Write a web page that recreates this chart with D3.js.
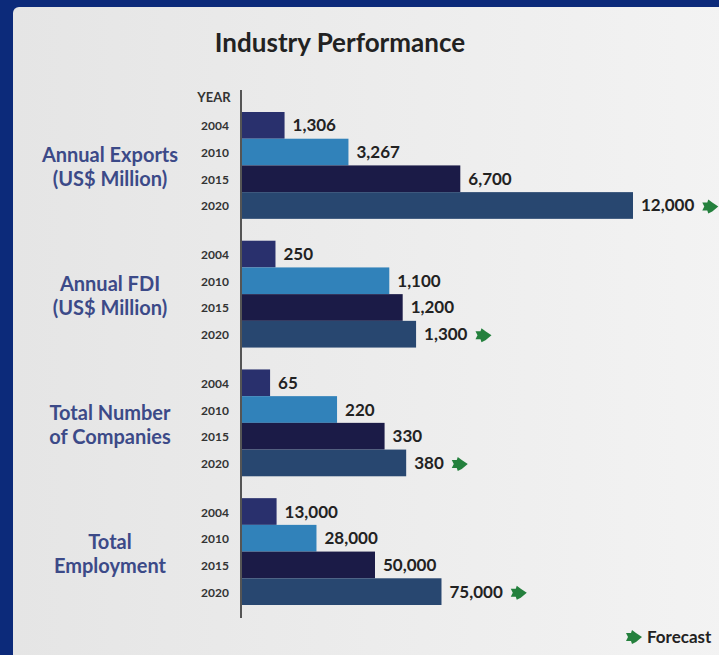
<!DOCTYPE html>
<html>
<head>
<meta charset="utf-8">
<script src="https://cdn.jsdelivr.net/npm/d3@7"></script>
<style>
  html, body { margin: 0; padding: 0; background: #0c2a7a; }
  svg { display: block; font-family: Lato, "Open Sans", sans-serif; }
</style>
</head>
<body>
<svg id="chart" width="719" height="655"></svg>
<script>
// data
var categories = [
    ["Annual Exports", "(US$ Million)"],
    ["Annual FDI", "(US$ Million)"],
    ["Total Number", "of Companies"],
    ["Total", "Employment"]
];
var years = ["2004", "2010", "2015", "2020"];
var exportsValues = [1306, 3267, 6700, 12000];
var fdiValues = [250, 1100, 1200, 1300];
var companiesValues = [65, 220, 330, 380];
var employmentValues = [13000, 28000, 50000, 75000];
var forecastYear = "2020";
// each metric has its own scale (infographic style)
var scaleMax = [12000, 2920, 905, 147000];

var series = [exportsValues, fdiValues, companiesValues, employmentValues];
var yearColors = ["#29306d", "#3182ba", "#1b1b47", "#284770"];

var svg = d3.select("#chart");
var width = 719, height = 655;
var axisX = 241;
var barWidth = 391;

// panel background
var defs = svg.append("defs");
var grad = defs.append("linearGradient").attr("id", "panelGrad")
    .attr("x1", "0").attr("y1", "0").attr("x2", "1").attr("y2", "0");
grad.append("stop").attr("offset", "0%").attr("stop-color", "#e5e5e5");
grad.append("stop").attr("offset", "100%").attr("stop-color", "#f3f3f3");

svg.append("rect").attr("width", width).attr("height", height).attr("fill", "#0c2a7a");
svg.append("rect")
    .attr("x", 13).attr("y", 7)
    .attr("width", width).attr("height", height)
    .attr("rx", 6)
    .attr("fill", "url(#panelGrad)");

svg.append("text")
    .attr("x", 340).attr("y", 52)
    .attr("text-anchor", "middle")
    .attr("font-size", "26px")
    .attr("font-weight", "bold")
    .attr("fill", "#222")
    .text("Industry Performance");

var groupY = d3.scaleBand()
    .domain(d3.range(categories.length))
    .range([112, 605])
    .paddingInner(0.17)
    .paddingOuter(0);

var yearY = d3.scaleBand()
    .domain(years)
    .range([0, groupY.bandwidth()]);

var fmt = d3.format(",");

function arrowPath(g, cx, cy) {
    g.append("path")
        .attr("transform", "translate(" + cx + "," + cy + ")")
        .attr("d", "M-8,-4 L-3,-4 L-2,-7 L2,-4 L8,0 L2,5 L-2,7 L-3,4 L-8,4 L-6,0 Z")
        .attr("fill", "#24803d");
}

// YEAR heading and axis line
svg.append("text")
    .attr("x", 214).attr("y", 102)
    .attr("text-anchor", "middle")
    .attr("font-size", "13px")
    .attr("font-weight", "bold")
    .attr("fill", "#333")
    .text("YEAR");

svg.append("line")
    .attr("x1", axisX).attr("x2", axisX)
    .attr("y1", 90).attr("y2", 618)
    .attr("stroke", "#555")
    .attr("stroke-width", 2);

categories.forEach(function (cat, i) {
    var values = series[i];
    var x = d3.scaleLinear().domain([0, scaleMax[i]]).range([0, barWidth]);
    var g = svg.append("g").attr("transform", "translate(0," + groupY(i) + ")");

    // category label
    var label = g.append("text")
        .attr("text-anchor", "middle")
        .attr("font-size", "20px")
        .attr("font-weight", "bold")
        .attr("fill", "#3c4a88");
    cat.forEach(function (line, k) {
        label.append("tspan")
            .attr("x", 110)
            .attr("y", groupY.bandwidth() / 2 - 3 + k * 24)
            .text(line);
    });

    years.forEach(function (yr, j) {
        var y0 = yearY(yr);
        var h = yearY.bandwidth();
        var w = x(values[j]);

        g.append("rect")
            .attr("x", axisX + 1).attr("y", y0)
            .attr("width", w).attr("height", h)
            .attr("fill", yearColors[j]);

        g.append("text")
            .attr("x", 215).attr("y", y0 + h / 2 + 5)
            .attr("text-anchor", "middle")
            .attr("font-size", "12px")
            .attr("font-weight", "bold")
            .attr("fill", "#333")
            .text(yr);

        var valText = g.append("text")
            .attr("x", axisX + 1 + w + 8).attr("y", y0 + h / 2 + 6)
            .attr("font-size", "17px")
            .attr("font-weight", "bold")
            .attr("fill", "#222")
            .text(fmt(values[j]));

        if (yr === forecastYear) {
            var tw = valText.node().getComputedTextLength();
            arrowPath(g, axisX + 1 + w + 8 + tw + 16, y0 + h / 2 + 1);
        }
    });
});

// legend
arrowPath(svg, 634, 637);
svg.append("text")
    .attr("x", 647).attr("y", 643)
    .attr("font-size", "17px")
    .attr("font-weight", "bold")
    .attr("fill", "#222")
    .text("Forecast");
</script>
</body>
</html>
